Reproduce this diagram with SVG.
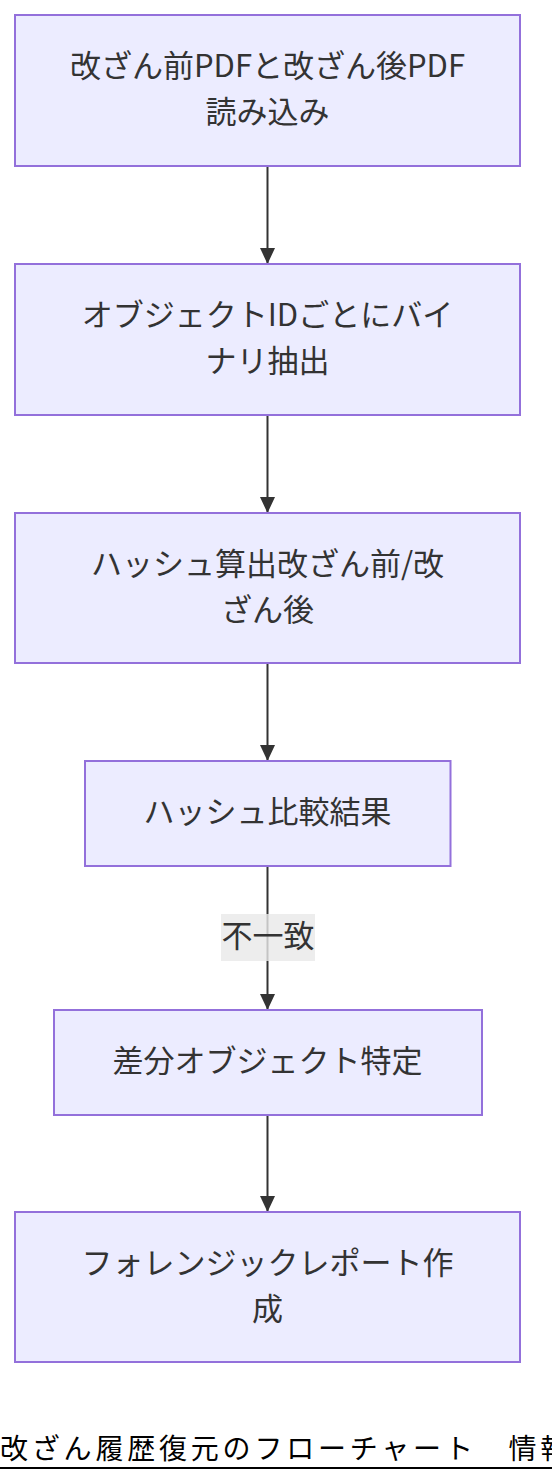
<svg xmlns="http://www.w3.org/2000/svg" width="552" height="1484" viewBox="0 0 552 1484">
<style>
.node rect{fill:#ECECFF;stroke:#9370DB;stroke-width:2}
.node text{font-family:"Noto Sans CJK JP","Noto Sans",sans-serif;font-size:31px;fill:#333;text-anchor:middle}
.edge{stroke:#333;stroke-width:2;fill:none}
.lbl rect{fill:#e8e8e8;fill-opacity:0.8}
.lbl text{font-family:"Noto Sans CJK JP","Noto Sans",sans-serif;font-size:31px;fill:#333;text-anchor:middle}
.cap{font-family:"Noto Sans CJK JP","Noto Sans",sans-serif;font-size:28px;letter-spacing:3.8px;fill:#000}
</style>
<defs>
<marker id="arr" viewBox="0 0 16 15" refX="16" refY="7.5" markerWidth="16" markerHeight="15" markerUnits="userSpaceOnUse" orient="auto">
<path d="M0,0 L16,7.5 L0,15 Z" fill="#333"/>
</marker>
</defs>
<rect width="552" height="1484" fill="#fff"/>
<g id="connectors">
<line class="edge" x1="267.5" y1="166" x2="267.5" y2="264" marker-end="url(#arr)"/>
<line class="edge" x1="267.5" y1="415" x2="267.5" y2="513" marker-end="url(#arr)"/>
<line class="edge" x1="267.5" y1="663" x2="267.5" y2="761" marker-end="url(#arr)"/>
<line class="edge" x1="267.5" y1="866" x2="267.5" y2="1010" marker-end="url(#arr)"/>
<line class="edge" x1="267.5" y1="1115" x2="267.5" y2="1212" marker-end="url(#arr)"/>
<g class="lbl" id="label-mismatch">
<rect x="221" y="914" width="94" height="47"/>
<text x="268" y="947">不一致</text>
</g>
</g>
<g id="n1" class="node">
<rect x="15" y="15" width="505" height="151"/>
<text x="267.5" y="77">改ざん前PDFと改ざん後PDF</text>
<text x="267.5" y="123">読み込み</text>
</g>
<g id="n2" class="node">
<rect x="15" y="264" width="505" height="151"/>
<text x="267.5" y="325.5">オブジェクトIDごとにバイ</text>
<text x="267.5" y="371.5">ナリ抽出</text>
</g>
<g id="n3" class="node">
<rect x="15" y="513" width="505" height="150"/>
<text x="267.5" y="575">ハッシュ算出改ざん前/改</text>
<text x="267.5" y="621">ざん後</text>
</g>
<g id="n4" class="node">
<rect x="85" y="761" width="365.5" height="105"/>
<text x="267.5" y="823">ハッシュ比較結果</text>
</g>
<g id="n5" class="node">
<rect x="54" y="1010" width="428" height="105"/>
<text x="267.5" y="1072">差分オブジェクト特定</text>
</g>
<g id="n6" class="node">
<rect x="15" y="1212" width="505" height="150"/>
<text x="267.5" y="1273.5">フォレンジックレポート作</text>
<text x="267.5" y="1319.5">成</text>
</g>
<g id="caption">
<text class="cap" x="0" y="1459">改ざん履歴復元のフローチャート　情報</text>
<line x1="0" y1="1468" x2="552" y2="1468" stroke="#000" stroke-width="2"/>
</g>
</svg>
